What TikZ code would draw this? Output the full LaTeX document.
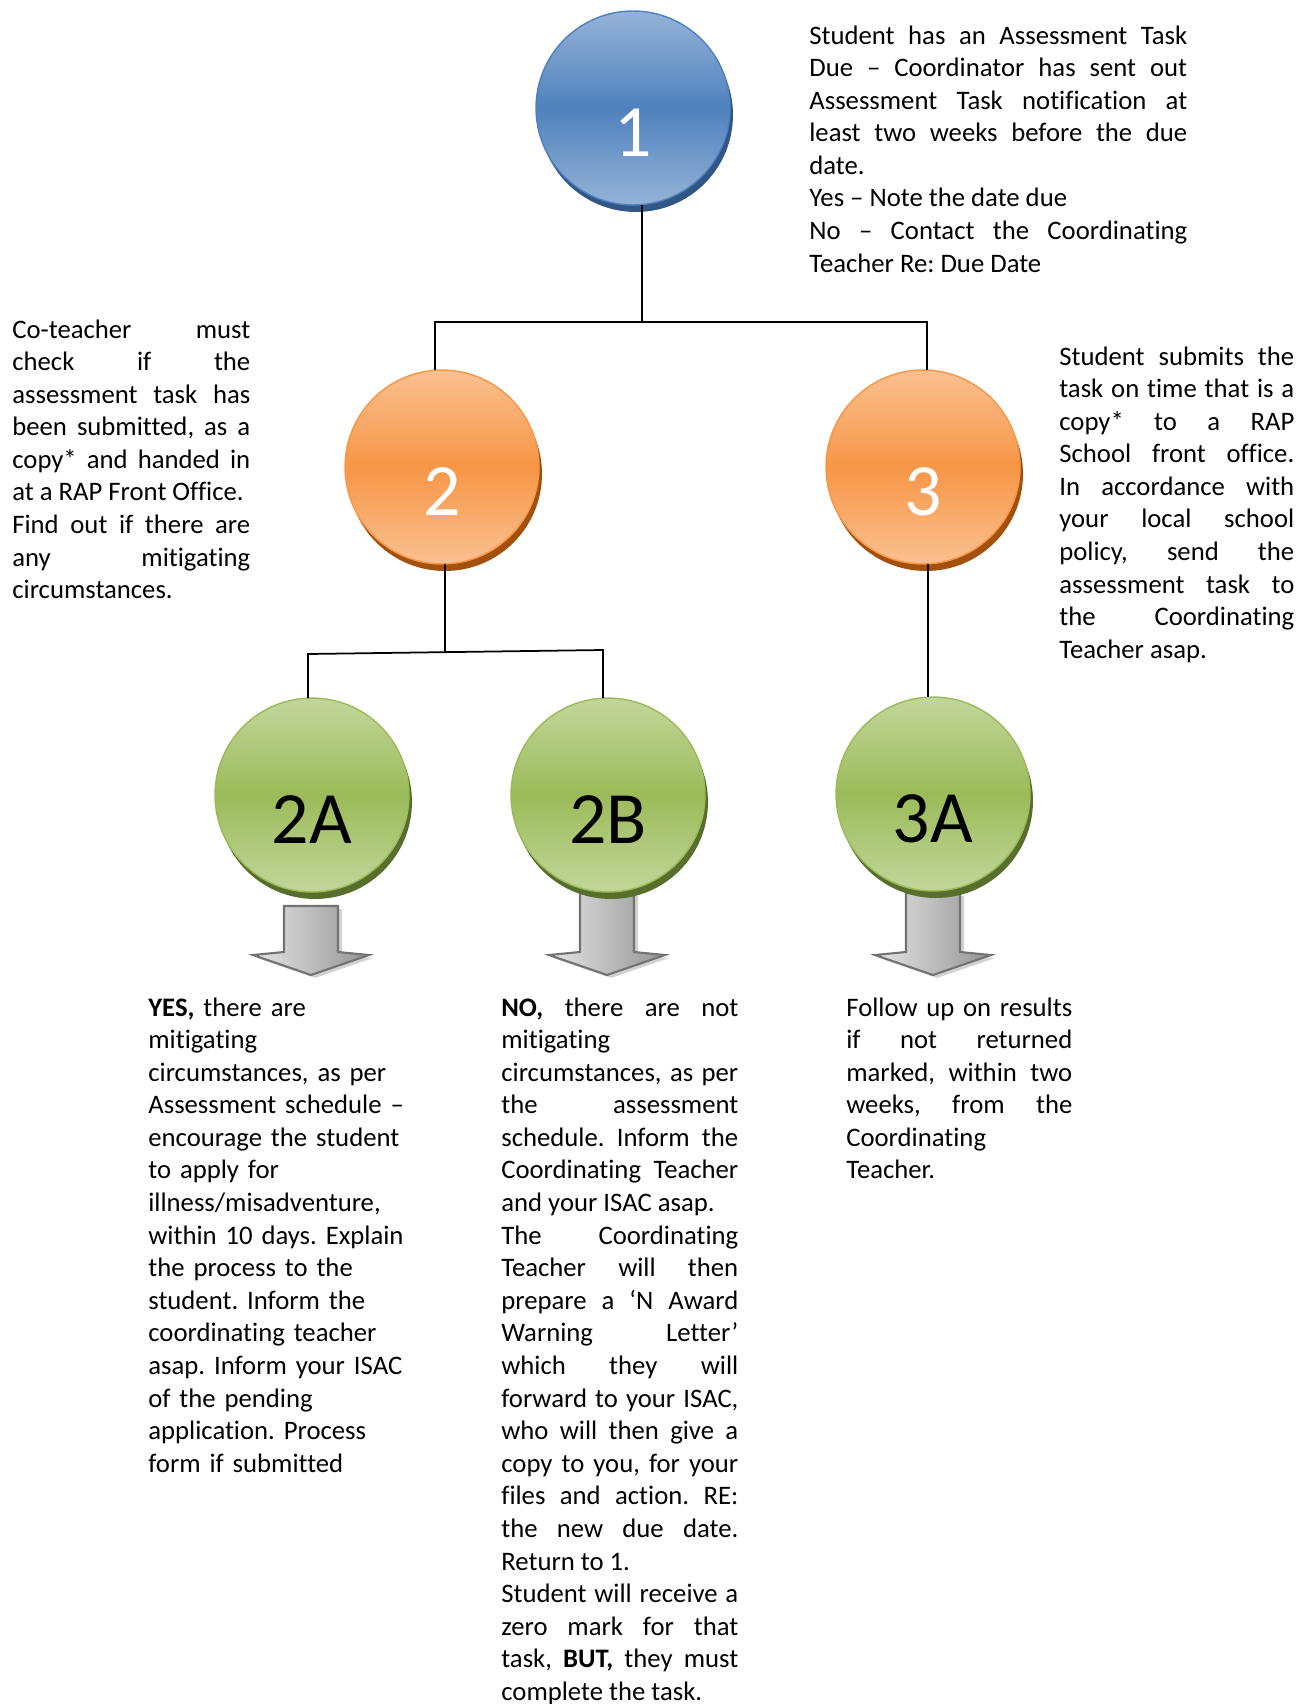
\documentclass[tikz,border=0pt]{standalone}
\usepackage{fontspec}
\setmainfont{Carlito}[Ligatures={TeX,NoCommon}]
\usetikzlibrary{shadows}

\frenchspacing
\tolerance=10000
\hbadness=10000
\hyphenpenalty=10000
\exhyphenpenalty=10000

\definecolor{bluelight}{RGB}{149,179,215}
\definecolor{bluemid}{RGB}{79,129,189}
\definecolor{bluedark}{RGB}{50,86,134}
\definecolor{orangelight}{RGB}{250,192,144}
\definecolor{orangemid}{RGB}{247,150,70}
\definecolor{orangedark}{RGB}{162,80,12}
\definecolor{greenlight}{RGB}{195,214,155}
\definecolor{greenmid}{RGB}{155,187,89}
\definecolor{greendark}{RGB}{88,110,44}

\tikzset{
	ball/.style={circle, minimum size=3.88cm, inner sep=0pt, outer sep=0pt, line width=0.8pt},
	blueball/.style={ball, draw=bluemid, top color=bluelight, bottom color=bluelight, middle color=bluemid,
		drop shadow={shadow xshift=0.06cm, shadow yshift=-0.14cm, fill=bluedark, opacity=1}},
	orangeball/.style={ball, draw=orangemid, top color=orangelight, bottom color=orangelight, middle color=orangemid,
		drop shadow={shadow xshift=0.06cm, shadow yshift=-0.14cm, fill=orangedark, opacity=1}},
	greenball/.style={ball, draw=greenmid, top color=greenlight, bottom color=greenlight, middle color=greenmid,
		drop shadow={shadow xshift=0.06cm, shadow yshift=-0.14cm, fill=greendark, opacity=1}},
	numlabel/.style={font=\fontsize{42}{50}\selectfont, yshift=-0.5cm, inner sep=0pt},
	note/.style={font=\fontsize{15.2}{18.55}\selectfont, inner sep=0pt, anchor=base west, align=justify},
	tree/.style={black, line width=1pt},
	blockarrow/.style={draw=black!55, line width=1.2pt, left color=black!10, right color=black!42,
		drop shadow={shadow xshift=0.08cm, shadow yshift=-0.06cm, fill=black!25, opacity=0.7}}
}

\begin{document}
\begin{tikzpicture}[x=0.02cm, y=-0.02cm]
	\useasboundingbox (0,0) rectangle (1298,1704);
	
	% ARROWS
	\foreach \ax/\at in {311/906, 607/893, 933/893}
	\path[blockarrow] (\ax-27,\at) -- (\ax+27,\at) -- (\ax+27,952) -- (\ax+58,955) -- (\ax,975) -- (\ax-58,955) -- (\ax-27,952) -- cycle;
	
	% BALLS
	\node[blueball, label={[numlabel, text=white]center:1}] (c1) at (633,108) {};
	\node[orangeball, label={[numlabel, text=white]center:2}] (c2) at (442,467) {};
	\node[orangeball, label={[numlabel, text=white]center:3}] (c3) at (923,467) {};
	\node[greenball, label={[numlabel]center:2A}] (c2A) at (312,795) {};
	\node[greenball, label={[numlabel]center:2B}] (c2B) at (608,795) {};
	\node[greenball, label={[numlabel]center:3A}] (c3A) at (933,794) {};
	
	% CONNECTORS
	\coordinate (j1) at (642,322);
	\coordinate (j1l) at (435,322);
	\coordinate (j1r) at (927,322);
	\draw[tree] (c1.south -| j1) -- (j1);
	\draw[tree] (c2.north -| j1l) -- (j1l) -- (j1r) -- (c3.north -| j1r);
	
	\coordinate (j2) at (445,652);
	\coordinate (j2l) at (308,654);
	\coordinate (j2r) at (603,650);
	\draw[tree] (c2.south -| j2) -- (j2);
	\draw[tree] (c2A.north -| j2l) -- (j2l) -- (j2r) -- (c2B.north -| j2r);
	
	\coordinate (j3) at (928,600);
	\draw[tree] (c3.south -| j3) -- (c3A.north -| j3);
	
	% TEXTS
	\node[note, text width=7.56cm] (t1) at (809,44) {Student has an Assessment Task\linebreak Due – Coordinator has sent out\linebreak Assessment Task notification at\linebreak least two weeks before the due\linebreak date.\par Yes – Note the date due\par No – Contact the Coordinating\linebreak Teacher Re: Due Date};
	
	\node[note, text width=4.76cm] (t2) at (12,338) {Co-teacher must\linebreak check if the\linebreak assessment task has\linebreak been submitted, as a\linebreak copy* and handed in\linebreak at a RAP Front Office.\par Find out if there are\linebreak any mitigating\linebreak circumstances.};
	
	\node[note, text width=4.7cm] (t3) at (1059,365) {Student submits the\linebreak task on time that is a\linebreak copy* to a RAP\linebreak School front office.\linebreak In accordance with\linebreak your local school\linebreak policy, send the\linebreak assessment task to\linebreak the Coordinating\linebreak Teacher asap.};
	
	\node[note, align=left, text width=5.3cm] (t2a) at (148,1016) {\textbf{YES,} there are\\ mitigating\\ circumstances, as per\\ Assessment schedule –\\ encourage the student\\ to apply for\\ illness/misadventure,\\ within 10 days. Explain\\ the process to the\\ student. Inform the\\ coordinating teacher\\ asap. Inform your ISAC\\ of the pending\\ application. Process\\ form if submitted};
	
	\node[note, text width=4.74cm] (t2b) at (501,1016) {\textbf{NO,} there are not\linebreak mitigating\linebreak circumstances, as per\linebreak the assessment\linebreak schedule. Inform the\linebreak Coordinating Teacher\linebreak and your ISAC asap.\par The Coordinating\linebreak Teacher will then\linebreak prepare a ‘N Award\linebreak Warning Letter’\linebreak which they will\linebreak forward to your ISAC,\linebreak who will then give a\linebreak copy to you, for your\linebreak files and action. RE:\linebreak the new due date.\linebreak Return to 1.\par Student will receive a\linebreak zero mark for that\linebreak task, \textbf{BUT,} they must\linebreak complete the task.};
	
	\node[note, text width=4.52cm] (t3a) at (846,1016) {Follow up on results\linebreak if not returned\linebreak marked, within two\linebreak weeks, from the\linebreak Coordinating\linebreak Teacher.};
\end{tikzpicture}
\end{document}
